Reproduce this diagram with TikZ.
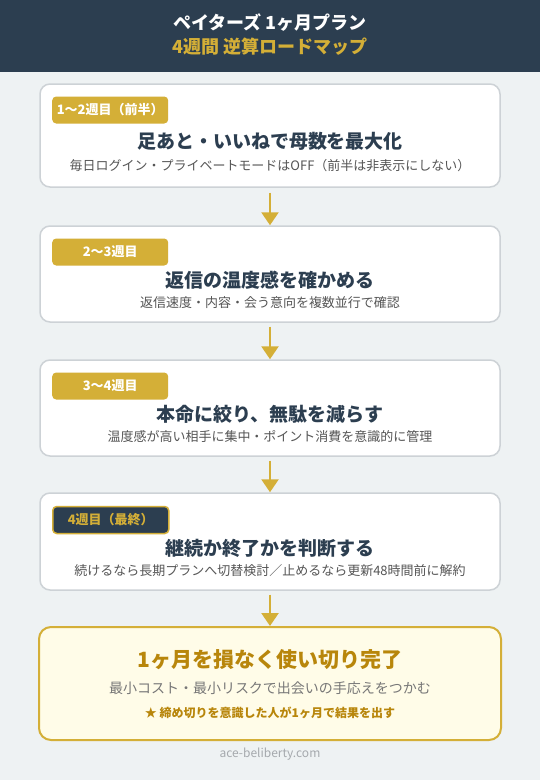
\documentclass[tikz,border=0pt]{standalone}
\usepackage{fontspec}
\setmainfont{Noto Sans CJK JP}
\usetikzlibrary{arrows.meta}
\definecolor{navy}{HTML}{2C3E50}
\definecolor{gold}{HTML}{D4AF37}
\definecolor{bg}{HTML}{EEF2F3}
\definecolor{boxline}{HTML}{CDD2D6}
\definecolor{subgray}{HTML}{555555}
\definecolor{cream}{HTML}{FFFCE8}
\definecolor{darkgold}{HTML}{B8860B}
\definecolor{finalgray}{HTML}{777777}
\definecolor{footgray}{HTML}{A5A9AD}
\newcommand{\myfs}[1]{\fontsize{#1pt}{#1pt}\selectfont}
\tikzset{
  stepcard/.style={draw=boxline, line width=1.5pt, fill=white, rounded corners=10pt, minimum width=460pt, inner sep=0pt},
  badge/.style={fill=gold, rounded corners=4pt, minimum width=116pt, minimum height=27pt, inner sep=0pt, text=white, font=\myfs{13}\bfseries, anchor=west},
  badgedark/.style={badge, fill=navy, draw=gold, line width=1.5pt, text=gold},
  ttl/.style={text=navy, font=\myfs{19}\bfseries, inner sep=0pt},
  subtxt/.style={text=subgray, font=\myfs{13}, inner sep=0pt},
  arr/.style={draw=gold, line width=2.5pt, -{Triangle[width=17pt,length=13pt]}, fill=gold},
}
\begin{document}
\begin{tikzpicture}[x=1pt,y=-1pt]
\useasboundingbox (0,0) rectangle (540,780);
\fill[bg] (0,0) rectangle (540,780);
\fill[navy] (0,0) rectangle (540,72);
\node[text=white, font=\myfs{18}\bfseries, inner sep=0pt] (h1) at (270,23) {ペイターズ 1ヶ月プラン};
\node[text=gold, font=\myfs{18}\bfseries, inner sep=0pt] (h2) at (270,46.5) {4週間 逆算ロードマップ};

% step 1
\node[stepcard, minimum height=103pt] (b1) at (270,135.5) {};
\node[badge] (g1) at (52,110) {1〜2週目（前半）};
\node[ttl] (t1) at (270,141) {足あと・いいねで母数を最大化};
\node[subtxt] (s1) at (270,166) {毎日ログイン・プライベートモードはOFF（前半は非表示にしない）};

% step 2
\node[stepcard, minimum height=96pt] (b2) at (270,274) {};
\node[badge] (g2) at (52,252) {2〜3週目};
\node[ttl] (t2) at (270,280) {返信の温度感を確かめる};
\node[subtxt] (s2) at (270,303) {返信速度・内容・会う意向を複数並行で確認};

% step 3
\node[stepcard, minimum height=96pt] (b3) at (270,408) {};
\node[badge] (g3) at (52,386) {3〜4週目};
\node[ttl] (t3) at (270,414) {本命に絞り、無駄を減らす};
\node[subtxt] (s3) at (270,437) {温度感が高い相手に集中・ポイント消費を意識的に管理};

% step 4
\node[stepcard, minimum height=97pt] (b4) at (270,541.5) {};
\node[badgedark] (g4) at (52,520) {4週目（最終）};
\node[ttl] (t4) at (270,548) {継続か終了かを判断する};
\node[subtxt] (s4) at (270,571) {続けるなら長期プランへ切替検討／止めるなら更新48時間前に解約};

% final
\node[draw=gold, line width=2pt, fill=cream, rounded corners=12pt, minimum width=462pt, minimum height=113pt, inner sep=0pt] (b5) at (270,683.5) {};
\node[text=darkgold, font=\myfs{21}\bfseries, inner sep=0pt] (t5) at (270,660) {1ヶ月を損なく使い切り完了};
\node[text=finalgray, font=\myfs{14}, inner sep=0pt] (s5) at (270,688) {最小コスト・最小リスクで出会いの手応えをつかむ};
\node[text=darkgold, font=\myfs{12}\bfseries, inner sep=0pt] (k5) at (270,713) {★ 締め切りを意識した人が1ヶ月で結果を出す};

\node[text=footgray, font=\myfs{12}, inner sep=0pt] (ft) at (270,754) {ace-beliberty.com};

% arrows
\draw[arr] ([yshift=-5pt]b1.south) -- (b2.north);
\draw[arr] ([yshift=-4pt]b2.south) -- (b3.north);
\draw[arr] ([yshift=-4pt]b3.south) -- (b4.north);
\draw[arr] ([yshift=-4pt]b4.south) -- (b5.north);
\end{tikzpicture}
\end{document}
